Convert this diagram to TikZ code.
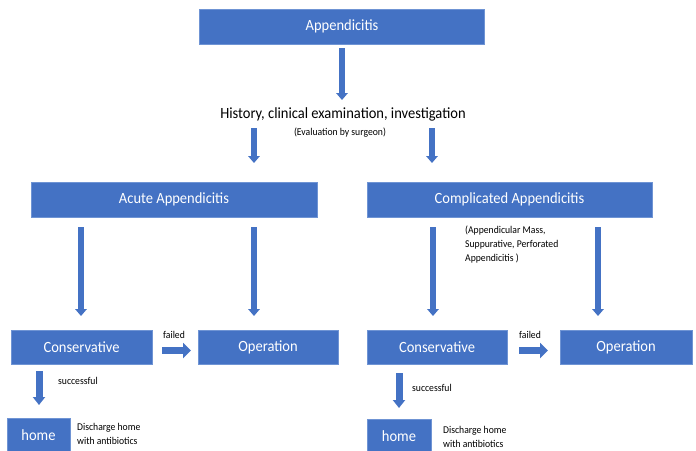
\documentclass[tikz,border=0pt]{standalone}
\usepackage{fontspec}
\setmainfont{Carlito}[FakeStretch=0.93]
\usetikzlibrary{arrows.meta}
\definecolor{obl}{HTML}{4472C4}
\definecolor{oedge}{HTML}{6F94D4}
\tikzset{
  box/.style={fill=obl, draw=oedge, line width=0.6pt, text=white, font=\fontsize{15.6}{18}\selectfont, inner sep=0pt, minimum height=35pt},
  bigtext/.style={font=\fontsize{15.6}{18}\selectfont, inner sep=0pt},
  smalltext/.style={font=\fontsize{10.4}{14}\selectfont, inner sep=0pt},
  varrow/.style={draw=obl, line width=6pt, -{Triangle[width=11.5pt 0, length=7pt 0]}},
  harrow/.style={draw=obl, line width=7pt, -{Triangle[width=15pt 0, length=8pt 0]}},
}
\begin{document}
\begin{tikzpicture}[x=1pt,y=-1pt]
\useasboundingbox (0,0) rectangle (696,450);
% boxes
\node[box, minimum width=285pt] (app) at (342,26.5) {Appendicitis};
\node[bigtext] (hist) at (343,114) {History, clinical examination, investigation};
\node[smalltext] (eval) at (340,133) {(Evaluation by surgeon)};
\node[box, minimum width=286pt] (acute) at (174,199.5) {Acute Appendicitis};
\node[box, minimum width=285pt] (comp) at (509.5,199.5) {Complicated Appendicitis};
\node[smalltext, anchor=west, align=left] (note) at (465,245) {(Appendicular Mass,\\Suppurative, Perforated\\Appendicitis )};
\node[box, minimum width=141pt, minimum height=34pt] (cons1) at (81.5,347) {Conservative};
\node[box, minimum width=140pt, minimum height=34pt] (op1) at (268,347) {Operation};
\node[box, minimum width=140pt, minimum height=34pt] (cons2) at (437,347) {Conservative};
\node[box, minimum width=132pt, minimum height=34pt] (op2) at (626,347) {Operation};
\node[box, minimum width=63pt, minimum height=34pt] (home1) at (38.5,435) {home};
\node[box, minimum width=64pt, minimum height=34pt] (home2) at (399,436) {home};
% labels
\node[smalltext] (failed1) at (174,335) {failed};
\node[smalltext] (failed2) at (530,335) {failed};
\node[smalltext, anchor=west] (succ1) at (58,381) {successful};
\node[smalltext, anchor=west] (succ2) at (412,388) {successful};
\node[smalltext, anchor=west, align=left] (dis1) at (77,434) {Discharge home\\with antibiotics};
\node[smalltext, anchor=west, align=left] (dis2) at (443,437) {Discharge home\\with antibiotics};
% arrow end points
\coordinate (a0s) at (342,48);  \coordinate (a0e) at (342,100);
\coordinate (a1s) at (254,128); \coordinate (a1e) at (254,163);
\coordinate (a2s) at (432,128); \coordinate (a2e) at (432,163);
\coordinate (a3s) at (81,227);  \coordinate (a3e) at (81,316);
\coordinate (a4s) at (254,227); \coordinate (a4e) at (254,316);
\coordinate (a5s) at (433,227); \coordinate (a5e) at (433,316);
\coordinate (a6s) at (598,227); \coordinate (a6e) at (598,316);
\coordinate (h1s) at (162,350.5); \coordinate (h1e) at (191,350.5);
\coordinate (h2s) at (519,350.5); \coordinate (h2e) at (548,350.5);
\coordinate (s1s) at (39,371);  \coordinate (s1e) at (39,405);
\coordinate (s2s) at (399,373); \coordinate (s2e) at (399,408);
% arrows
\draw[varrow] (a0s) -- (a0e);
\draw[varrow] (a1s) -- (a1e);
\draw[varrow] (a2s) -- (a2e);
\draw[varrow] (a3s) -- (a3e);
\draw[varrow] (a4s) -- (a4e);
\draw[varrow] (a5s) -- (a5e);
\draw[varrow] (a6s) -- (a6e);
\draw[harrow] (h1s) -- (h1e);
\draw[harrow] (h2s) -- (h2e);
\draw[varrow, line width=7pt, -{Triangle[width=12pt 0, length=8pt 0]}] (s1s) -- (s1e);
\draw[varrow, line width=7pt, -{Triangle[width=12pt 0, length=8pt 0]}] (s2s) -- (s2e);
\end{tikzpicture}
\end{document}
